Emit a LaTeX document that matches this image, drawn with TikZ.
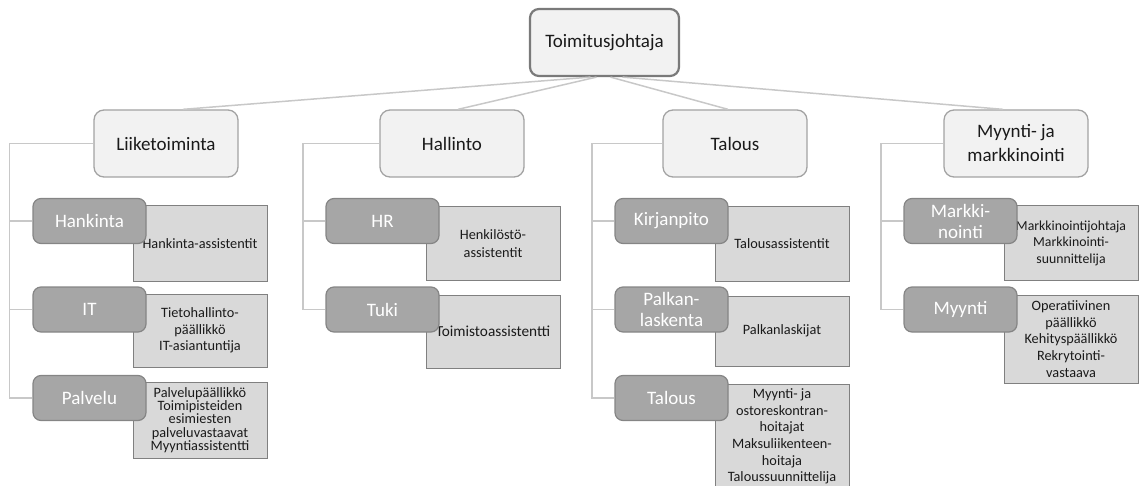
\documentclass[tikz,border=0pt]{standalone}
\usepackage{fontspec}
\setmainfont{Carlito}
\usetikzlibrary{calc}

\definecolor{txt}{HTML}{1A1A1A}
\definecolor{paleface}{HTML}{F2F2F2}
\definecolor{topline}{HTML}{7A7A7A}
\definecolor{deptline}{HTML}{A3A3A3}
\definecolor{unitface}{HTML}{A6A6A6}
\definecolor{unitline}{HTML}{858585}
\definecolor{staffface}{HTML}{D9D9D9}
\definecolor{staffline}{HTML}{808080}
\definecolor{linkgray}{HTML}{C8C8C8}

\begin{document}
\begin{tikzpicture}[x=1pt,y=-1pt,
  every node/.style={inner sep=0pt, align=center, text=txt},
  topbox/.style={draw=topline, line width=2.2pt, fill=paleface, rounded corners=9pt,
    minimum width=149pt, minimum height=67pt, font=\fontsize{19}{23}\selectfont},
  deptbox/.style={draw=deptline, line width=1.3pt, fill=paleface, rounded corners=10pt,
    minimum width=144pt, minimum height=67pt, font=\fontsize{19}{24}\selectfont},
  unitbox/.style={draw=unitline, line width=1.2pt, fill=unitface, rounded corners=8pt,
    minimum width=113pt, minimum height=45pt, text=white, font=\fontsize{19}{21}\selectfont},
  staffbox/.style={draw=staffline, line width=1pt, fill=staffface,
    minimum width=134pt, font=\fontsize{14.3}{16.6}\selectfont},
  link/.style={draw=linkgray, line width=1.5pt},
]
\useasboundingbox (0,0) rectangle (1139,486);

% top of the hierarchy
\node[topbox] (top) at (604.5,42.5) {Toimitusjohtaja};

% departments
\node[deptbox] (l1) at (166,143.5) {Liiketoiminta};
\node[deptbox] (l2) at (452,143.5) {Hallinto};
\node[deptbox] (l3) at (735,143.5) {Talous};
\node[deptbox] (l4) at (1016,143.5) {Myynti- ja\\markkinointi};

\draw[link] ($(top.south)+(-14,0)$) -- ($(l1.north)+(17,0)$);
\draw[link] ($(top.south)+(-8,0)$) -- ($(l2.north)+(6,0)$);
\draw[link] ($(top.south)+(6,0)$) -- ($(l3.north)+(-7,0)$);
\draw[link] ($(top.south)+(18,0)$) -- ($(l4.north)+(-13,0)$);

% staff boxes (drawn first, units overlap them)
\node[staffbox, minimum height=75pt] (s11) at (200,243.5) {Hankinta-assistentit};
\node[staffbox, minimum height=73pt] (s12) at (200,330.5) {Tietohallinto-\\päällikkö\\IT-asiantuntija};
\node[staffbox, minimum height=76pt, font=\fontsize{14.3}{13.3}\selectfont] (s13) at (200,420)
  {Palvelupäällikkö\\Toimipisteiden\\esimiesten\\palveluvastaavat\\Myyntiassistentti};

\node[staffbox, minimum height=73pt, font=\fontsize{14.3}{17.7}\selectfont] (s21) at (493,243.5) {Henkilöstö-\\assistentit};
\node[staffbox, minimum height=73pt, font=\fontsize{15.3}{17}\selectfont] (s22) at (493,331.5) {Toimistoassistentti};

\node[staffbox, minimum height=74pt] (s31) at (782,244) {Talousassistentit};
\node[staffbox, minimum height=70pt] (s32) at (782,331) {Palkanlaskijat};
\node[staffbox, minimum height=105pt] (s33) at (782,436.5)
  {Myynti- ja\\ostoreskontran-\\hoitajat\\Maksuliikenteen-\\hoitaja\\Taloussuunnittelija};

\node[staffbox, minimum height=74pt, font=\fontsize{13.8}{16.6}\selectfont] (s41) at (1071,243)
  {Markkinointijohtaja\\Markkinointi-\\suunnittelija};
\node[staffbox, minimum height=88pt] (s42) at (1071,339)
  {Operatiivinen\\päällikkö\\Kehityspäällikkö\\Rekrytointi-\\vastaava};

% units
\node[unitbox] (u11) at (89.5,221) {Hankinta};
\node[unitbox] (u12) at (89.5,309.5) {IT};
\node[unitbox] (u13) at (89.5,398) {Palvelu};

\node[unitbox] (u21) at (382.5,221) {HR};
\node[unitbox] (u22) at (382.5,309.5) {Tuki};

\node[unitbox] (u31) at (671.5,221) {Kirjanpito};
\node[unitbox] (u32) at (671.5,309.5) {Palkan-\\laskenta};
\node[unitbox] (u33) at (671.5,398) {Talous};

\node[unitbox] (u41) at (960.5,221) {Markki-\\nointi};
\node[unitbox] (u42) at (960.5,309.5) {Myynti};

% side spines from departments to units
\coordinate (p1) at (9.5,143.5);
\coordinate (p2) at (303,143.5);
\coordinate (p3) at (592,143.5);
\coordinate (p4) at (881,143.5);

\draw[link] (l1.west) -- (p1) |- (u13.west);
\draw[link] (p1 |- u11.west) -- (u11.west);
\draw[link] (p1 |- u12.west) -- (u12.west);

\draw[link] (l2.west) -- (p2) |- (u22.west);
\draw[link] (p2 |- u21.west) -- (u21.west);

\draw[link] (l3.west) -- (p3) |- (u33.west);
\draw[link] (p3 |- u31.west) -- (u31.west);
\draw[link] (p3 |- u32.west) -- (u32.west);

\draw[link] (l4.west) -- (p4) |- (u42.west);
\draw[link] (p4 |- u41.west) -- (u41.west);
\end{tikzpicture}
\end{document}
